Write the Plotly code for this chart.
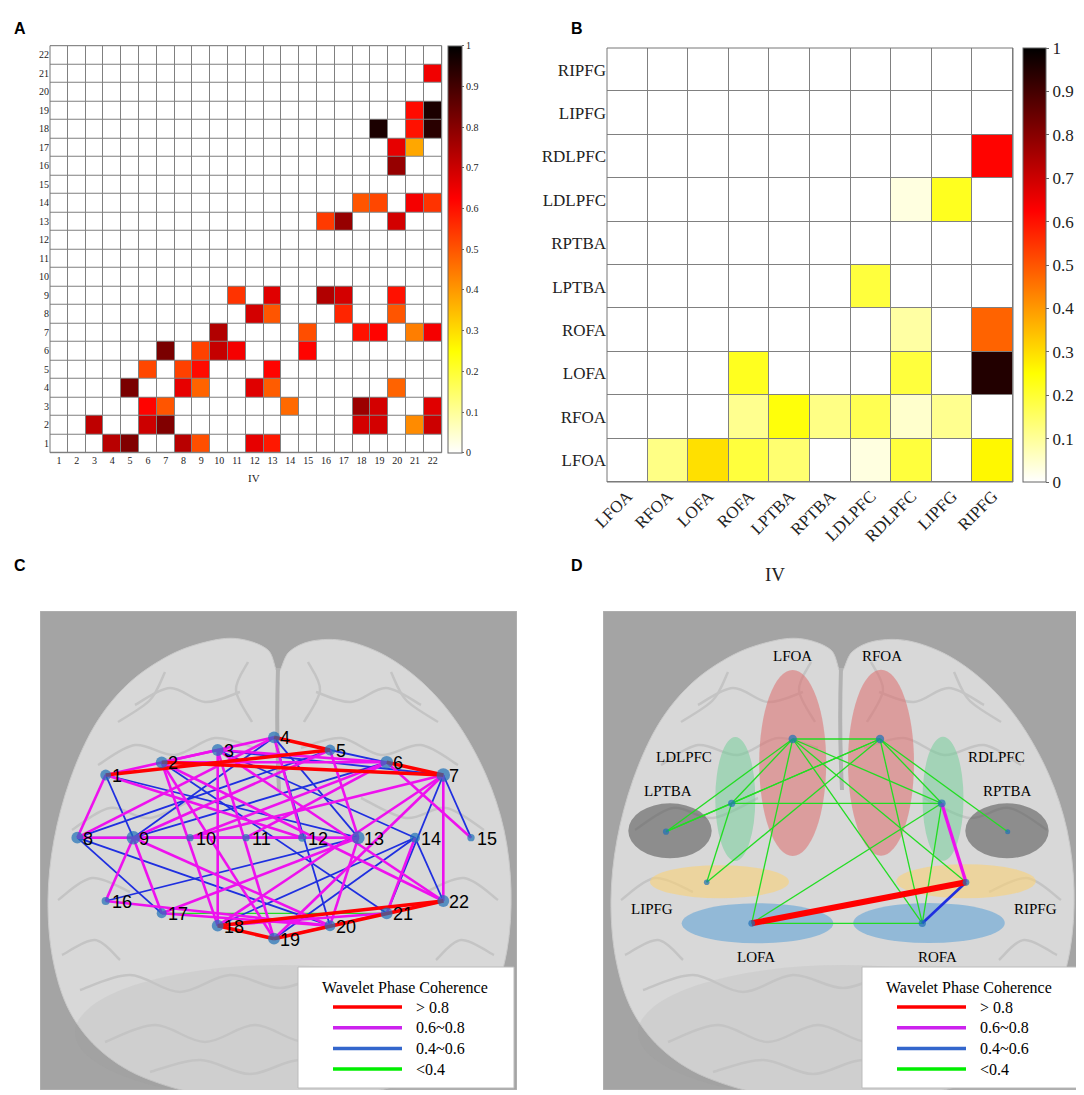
import numpy as np
import plotly.graph_objects as go

W, H = 1084, 1095
OFF = 8                      # the page body adds an 8 px margin
FW, FH = W - OFF, H - OFF
SERIF = "Liberation Serif"
SANS = "Liberation Sans"


def fx(p):
    return (p - OFF) / FW


def fy(p):
    return 1 - (p - OFF) / FH


# ---- panel A: 22 channel pairs (row channel, column channel, coherence) ----
channels = list(range(1, 23))
chan_row = [21, 19, 19, 18, 18, 18, 17, 17, 16, 14, 14, 14, 14, 13, 13, 13,
            9, 9, 9, 9, 9, 8, 8, 8, 8, 7, 7, 7, 7, 7, 7, 6, 6, 6, 6, 6,
            5, 5, 5, 5, 4, 4, 4, 4, 4, 4, 3, 3, 3, 3, 3, 3,
            2, 2, 2, 2, 2, 2, 2, 1, 1, 1, 1, 1, 1]
chan_col = [22, 21, 22, 19, 21, 22, 20, 21, 20, 18, 19, 21, 22, 16, 17, 20,
            11, 13, 16, 17, 20, 12, 13, 17, 20, 10, 15, 18, 19, 21, 22, 7, 9, 10, 11, 15,
            6, 8, 9, 13, 5, 8, 9, 12, 13, 20, 6, 7, 14, 18, 19, 22,
            3, 6, 7, 18, 19, 21, 22, 4, 5, 8, 9, 12, 13]
chan_val = [0.645, 0.61, 0.96, 0.96, 0.60, 0.94, 0.66, 0.38, 0.78, 0.50, 0.52, 0.64, 0.55, 0.54, 0.78, 0.69,
            0.55, 0.67, 0.74, 0.69, 0.60, 0.69, 0.50, 0.57, 0.50, 0.74, 0.51, 0.60, 0.62, 0.44, 0.64,
            0.82, 0.53, 0.71, 0.64, 0.62,
            0.52, 0.53, 0.61, 0.62, 0.82, 0.66, 0.48, 0.67, 0.49, 0.48, 0.62, 0.50, 0.47, 0.77, 0.69, 0.67,
            0.72, 0.70, 0.81, 0.69, 0.69, 0.42, 0.70, 0.73, 0.81, 0.73, 0.51, 0.66, 0.59]

# ---- panel B: 10 regions ----
regions = ["LFOA", "RFOA", "LOFA", "ROFA", "LPTBA", "RPTBA", "LDLPFC", "RDLPFC", "LIPFG", "RIPFG"]
reg_row = ["RDLPFC", "LDLPFC", "LDLPFC", "LPTBA", "ROFA", "ROFA", "LOFA", "LOFA", "LOFA",
           "RFOA", "RFOA", "RFOA", "RFOA", "RFOA", "RFOA",
           "LFOA", "LFOA", "LFOA", "LFOA", "LFOA", "LFOA", "LFOA"]
reg_col = ["RIPFG", "RDLPFC", "LIPFG", "LDLPFC", "RDLPFC", "RIPFG", "ROFA", "RDLPFC", "RIPFG",
           "ROFA", "LPTBA", "RPTBA", "LDLPFC", "RDLPFC", "LIPFG",
           "RFOA", "LOFA", "ROFA", "LPTBA", "LDLPFC", "RDLPFC", "RIPFG"]
reg_val = [0.62, 0.03, 0.22, 0.19, 0.09, 0.48, 0.22, 0.19, 0.95,
           0.11, 0.24, 0.12, 0.17, 0.05, 0.11,
           0.12, 0.295, 0.19, 0.14, 0.03, 0.19, 0.26]

# montage positions (screen px) of the 22 channels and the 10 regions
chan_x = [105.7, 161.7, 217.7, 274, 330, 386.7, 443.3,
          77.3, 133.3, 190, 246, 302.3, 358.3, 415, 471,
          105.7, 161.7, 217.7, 274, 330, 386.7, 443.3]
chan_y = [775, 762.3, 750, 737.3, 750, 762.3, 775,
          837.7, 837.7, 837.7, 837.7, 837.7, 837.7, 837.7, 837.7,
          901, 913.3, 925.7, 938.7, 925.7, 913.3, 901]
reg_x = [792.7, 880, 751.7, 922.3, 666, 1007.7, 731.7, 941.7, 706.7, 966]
reg_y = [739, 739, 923.3, 923.3, 831.7, 831.7, 803.3, 803.3, 882.3, 882.3]

legend_labels = ["> 0.8", "0.6~0.8", "0.4~0.6", "<0.4"]
legend_colors = ["#ff0000", "#cc22ee", "#3366cc", "#00ee00"]
edge_colors = ["#ff0000", "#ee11ee", "#1f2fe0", "#22dd22"]
width_C = [3.5, 2.6, 1.8, 1.3]
width_D = [6.0, 3.3, 2.7, 1.3]


def band(v):
    if v > 0.8:
        return 0
    if v >= 0.6:
        return 1
    if v >= 0.4:
        return 2
    return 3


hot_r = [[0, "#ffffff"], [0.25, "#ffff00"], [0.625, "#ff0000"], [1, "#000000"]]
cb_ticks = [round(t * 0.1, 1) for t in range(11)]
cb_text = ["0"] + [f"{t:.1f}" for t in cb_ticks[1:-1]] + ["1"]

fig = go.Figure()

# ---- heatmap A ----
zA = np.zeros((22, 22))
for r, c, v in zip(chan_row, chan_col, chan_val):
    zA[r - 1, c - 1] = v
fig.add_trace(go.Heatmap(
    z=zA, x=channels, y=channels, zmin=0, zmax=1, colorscale=hot_r,
    xgap=1, ygap=1, hoverinfo="skip", xaxis="x", yaxis="y",
    colorbar=dict(x=fx(447.7), xanchor="left", y=fy(249.2), yanchor="middle",
                  len=407 / FH, thickness=14, xpad=0, ypad=0,
                  outlinewidth=1, outlinecolor="#666",
                  tickvals=cb_ticks, ticktext=cb_text, ticks="outside", ticklen=2,
                  tickcolor="#666", tickfont=dict(family=SERIF, size=10, color="#222"))))

# ---- heatmap B ----
idx = {r: i for i, r in enumerate(regions)}
zB = np.zeros((10, 10))
for r, c, v in zip(reg_row, reg_col, reg_val):
    zB[idx[r], idx[c]] = v
fig.add_trace(go.Heatmap(
    z=zB, x=regions, y=regions, zmin=0, zmax=1, colorscale=hot_r,
    xgap=1, ygap=1, hoverinfo="skip", xaxis="x2", yaxis="y2",
    colorbar=dict(x=fx(1023), xanchor="left", y=fy(265), yanchor="middle",
                  len=434 / FH, thickness=23, xpad=0, ypad=0,
                  outlinewidth=1, outlinecolor="#666",
                  tickvals=cb_ticks, ticktext=cb_text, ticks="outside", ticklen=3,
                  tickcolor="#666", tickfont=dict(family=SERIF, size=17, color="#222"))))

# ---- network C ----
deg_C = np.zeros(22)
for r, c in zip(chan_row, chan_col):
    deg_C[r - 1] += 1
    deg_C[c - 1] += 1
for r, c, v in sorted(zip(chan_row, chan_col, chan_val), key=lambda e: e[2]):
    b = band(v)
    fig.add_trace(go.Scatter(
        x=[chan_x[r - 1], chan_x[c - 1]], y=[chan_y[r - 1], chan_y[c - 1]],
        mode="lines", line=dict(color=edge_colors[b], width=width_C[b]),
        hoverinfo="skip", showlegend=False, xaxis="x3", yaxis="y3"))
fig.add_trace(go.Scatter(
    x=chan_x, y=chan_y, mode="markers",
    marker=dict(size=5.5 + 0.9 * deg_C, color="#1f70b8", line=dict(width=0)),
    hoverinfo="skip", showlegend=False, xaxis="x3", yaxis="y3"))

# ---- network D ----
deg_D = np.zeros(10)
for r, c in zip(reg_row, reg_col):
    deg_D[idx[r]] += 1
    deg_D[idx[c]] += 1
for r, c, v in sorted(zip(reg_row, reg_col, reg_val), key=lambda e: e[2]):
    b = band(v)
    fig.add_trace(go.Scatter(
        x=[reg_x[idx[r]], reg_x[idx[c]]], y=[reg_y[idx[r]], reg_y[idx[c]]],
        mode="lines", line=dict(color=edge_colors[b], width=width_D[b]),
        hoverinfo="skip", showlegend=False, xaxis="x4", yaxis="y4"))
fig.add_trace(go.Scatter(
    x=reg_x, y=reg_y, mode="markers",
    marker=dict(size=4.5 + 0.55 * deg_D, color="#1f70b8", line=dict(width=0)),
    hoverinfo="skip", showlegend=False, xaxis="x4", yaxis="y4"))


# ---- backgrounds: gray frame, brain silhouette, region patches ----
def smooth_path(pts, dx=0.0, closed=True):
    pts = [(x + dx, y) for x, y in pts]
    n = len(pts)
    d = f"M {pts[0][0]:.1f},{pts[0][1]:.1f}"
    segs = range(n) if closed else range(n - 1)
    for i in segs:
        p1, p2 = pts[i], pts[(i + 1) % n]
        p0 = pts[i - 1] if (closed or i > 0) else p1
        p3 = pts[(i + 2) % n] if (closed or i + 2 < n) else p2
        c1 = (p1[0] + (p2[0] - p0[0]) / 6, p1[1] + (p2[1] - p0[1]) / 6)
        c2 = (p2[0] - (p3[0] - p1[0]) / 6, p2[1] - (p3[1] - p1[1]) / 6)
        d += f" C {c1[0]:.1f},{c1[1]:.1f} {c2[0]:.1f},{c2[1]:.1f} {p2[0]:.1f},{p2[1]:.1f}"
    return d + (" Z" if closed else "")


brain = [(278, 672), (268, 650), (240, 639), (210, 641), (170, 655), (128, 684),
         (95, 725), (70, 780), (54, 840), (48, 900), (53, 960), (70, 1012),
         (102, 1052), (150, 1080), (220, 1096), (340, 1096), (412, 1080),
         (460, 1048), (491, 1002), (507, 950), (511, 890), (504, 830),
         (486, 775), (458, 724), (425, 685), (386, 656), (346, 641), (312, 641), (289, 652)]
left_grooves = [
    [(135, 705), (170, 688), (205, 702), (240, 692)],
    [(98, 765), (135, 745), (175, 755), (215, 738), (255, 748)],
    [(72, 830), (110, 808), (150, 818), (195, 798)],
    [(58, 900), (92, 878), (130, 892)],
    [(248, 662), (236, 690), (252, 722)],
    [(165, 672), (150, 700), (118, 722)],
    [(62, 955), (95, 940), (120, 960)],
]
lower_grooves = [
    [(80, 990), (130, 975), (180, 992), (230, 975), (280, 988), (330, 975), (380, 992), (430, 975), (485, 990)],
    [(105, 1042), (155, 1025), (205, 1042), (255, 1025), (305, 1042), (355, 1025), (405, 1042), (455, 1025)],
    [(150, 1072), (200, 1060), (250, 1074), (300, 1060), (350, 1074), (400, 1062)],
]

shapes = []
for ax, x0, x1 in (("3", 40, 517), ("4", 603, 1080)):
    dx = x0 - 40
    xr, yr = "x" + ax, "y" + ax
    shapes.append(dict(type="rect", xref=xr, yref=yr, x0=x0, x1=x1, y0=611, y1=1090,
                       fillcolor="#a4a4a4", line=dict(color="#b8b8b8", width=1), layer="below"))
    shapes.append(dict(type="path", xref=xr, yref=yr, path=smooth_path(brain, dx),
                       fillcolor="#d8d8d8", line=dict(color="#cacaca", width=1), layer="below"))
    shapes.append(dict(type="circle", xref=xr, yref=yr, x0=75 + dx, x1=485 + dx, y0=965, y1=1100,
                       fillcolor="rgba(150,150,150,0.12)", line=dict(width=0), layer="below"))
    grooves = left_grooves + [[(556 - x, y) for x, y in g] for g in left_grooves] + lower_grooves
    for g in grooves:
        shapes.append(dict(type="path", xref=xr, yref=yr, path=smooth_path(g, dx, closed=False),
                           line=dict(color="#c4c4c4", width=2.5), layer="below"))
    shapes.append(dict(type="path", xref=xr, yref=yr,
                       path=f"M {278 + dx},668 Q {276 + dx},730 {279 + dx},790",
                       line=dict(color="#b2b2b2", width=4), layer="below"))

patches = [  # (cx, cy, half-width, half-height, colour)
    (792.7, 763, 33.5, 93, "rgba(222,110,110,0.55)"),
    (881, 762.7, 33, 93, "rgba(222,110,110,0.55)"),
    (735.3, 799, 20, 62, "rgba(110,205,150,0.5)"),
    (943, 798.7, 20.5, 62, "rgba(110,205,150,0.5)"),
    (670, 830.8, 41.7, 27.5, "rgba(80,80,80,0.55)"),
    (1007, 830.8, 41.7, 27.5, "rgba(80,80,80,0.55)"),
    (719.5, 881.7, 69.5, 16.5, "rgba(250,210,120,0.6)"),
    (966, 881.3, 69.7, 17, "rgba(250,210,120,0.6)"),
    (757.5, 923.3, 75.8, 20, "rgba(100,165,215,0.6)"),
    (929, 923, 75.8, 20, "rgba(100,165,215,0.6)"),
]
for cx, cy, hw, hh, col in patches:
    shapes.append(dict(type="circle", xref="x4", yref="y4", x0=cx - hw, x1=cx + hw,
                       y0=cy - hh, y1=cy + hh, fillcolor=col, line=dict(width=0), layer="below"))

# heatmap borders
for ax in ("", "2"):
    shapes.append(dict(type="rect", xref="x" + ax + " domain", yref="y" + ax + " domain",
                       x0=0, x1=1, y0=0, y1=1, line=dict(color="#777", width=1)))

annotations = []
# legends in C and D
for ax, lx in (("3", 298), ("4", 862)):
    shapes.append(dict(type="rect", xref="x" + ax, yref="y" + ax, x0=lx, x1=lx + 216,
                       y0=967, y1=1088, fillcolor="white", line=dict(color="#bbbbbb", width=1)))
    annotations.append(dict(xref="x" + ax, yref="y" + ax, x=lx + 107, y=987,
                            text="Wavelet Phase Coherence", showarrow=False,
                            font=dict(family=SERIF, size=16, color="black")))
    for k, (lab, col) in enumerate(zip(legend_labels, legend_colors)):
        yy = 1007 + k * 20.7
        shapes.append(dict(type="line", xref="x" + ax, yref="y" + ax, x0=lx + 35, x1=lx + 104,
                           y0=yy, y1=yy, line=dict(color=col, width=3.5)))
        annotations.append(dict(xref="x" + ax, yref="y" + ax, x=lx + 116, y=yy, xanchor="left",
                                text=lab, showarrow=False,
                                font=dict(family=SERIF, size=16, color="black")))

# channel numbers
for ch, x, y in zip(channels, chan_x, chan_y):
    annotations.append(dict(xref="x3", yref="y3", x=x + 4, y=y + 1, xanchor="left", yanchor="middle",
                            text=str(ch), showarrow=False,
                            font=dict(family=SANS, size=18, color="black")))

# region names
reg_label_x = [792.7, 882.3, 755.7, 937.3, 667.7, 1007.7, 684, 996.7, 651.7, 1035.7]
reg_label_y = [656, 656, 956.7, 956.7, 791, 791, 756.7, 756.7, 909, 909]
for name, x, y in zip(regions, reg_label_x, reg_label_y):
    annotations.append(dict(xref="x4", yref="y4", x=x, y=y, text=name, showarrow=False,
                            font=dict(family=SERIF, size=15, color="black")))

# axis titles and panel letters
annotations.append(dict(xref="paper", yref="paper", x=fx(246), y=fy(478), text="IV",
                        showarrow=False, font=dict(family=SERIF, size=11, color="#222")))
annotations.append(dict(xref="paper", yref="paper", x=fx(787), y=fy(574), text="IV",
                        showarrow=False, font=dict(family=SERIF, size=19, color="#222")))
for letter, x, y in (("A", 12, 18), ("B", 577, 18), ("C", 12, 566), ("D", 577, 566)):
    annotations.append(dict(xref="paper", yref="paper", x=fx(x), y=fy(y), text=f"<b>{letter}</b>",
                            showarrow=False, font=dict(family=SANS, size=16, color="black")))

hidden = dict(visible=False, showgrid=False, zeroline=False, fixedrange=True)
fig.update_layout(
    width=FW, height=FH, margin=dict(l=0, r=0, t=0, b=0),
    paper_bgcolor="white", plot_bgcolor="#808080", showlegend=False,
    xaxis=dict(domain=[fx(50), fx(441.7)], range=[0.5, 22.5], tickvals=channels, ticks="",
               anchor="y", showgrid=False, zeroline=False, automargin=False,
               tickfont=dict(family=SERIF, size=10, color="#222")),
    yaxis=dict(domain=[fy(452.7), fy(45.7)], range=[0.5, 22.5], tickvals=channels, ticks="",
               anchor="x", showgrid=False, zeroline=False, automargin=False,
               tickfont=dict(family=SERIF, size=10, color="#222")),
    xaxis2=dict(domain=[fx(607), fx(1013)], anchor="y2", tickangle=-45, ticks="",
                showgrid=False, zeroline=False, automargin=False,
                tickfont=dict(family=SERIF, size=17, color="#222")),
    yaxis2=dict(domain=[fy(482), fy(48)], anchor="x2", ticks="", showgrid=False, zeroline=False,
                automargin=False, tickfont=dict(family=SERIF, size=17, color="#222")),
    xaxis3=dict(domain=[fx(40), fx(517)], range=[40, 517], anchor="y3", **hidden),
    yaxis3=dict(domain=[fy(1090), fy(611)], range=[1090, 611], anchor="x3", **hidden),
    xaxis4=dict(domain=[fx(603), fx(1080)], range=[603, 1080], anchor="y4", **hidden),
    yaxis4=dict(domain=[fy(1090), fy(611)], range=[1090, 611], anchor="x4", **hidden),
    shapes=shapes, annotations=annotations,
)

fig.write_html("out.html")
